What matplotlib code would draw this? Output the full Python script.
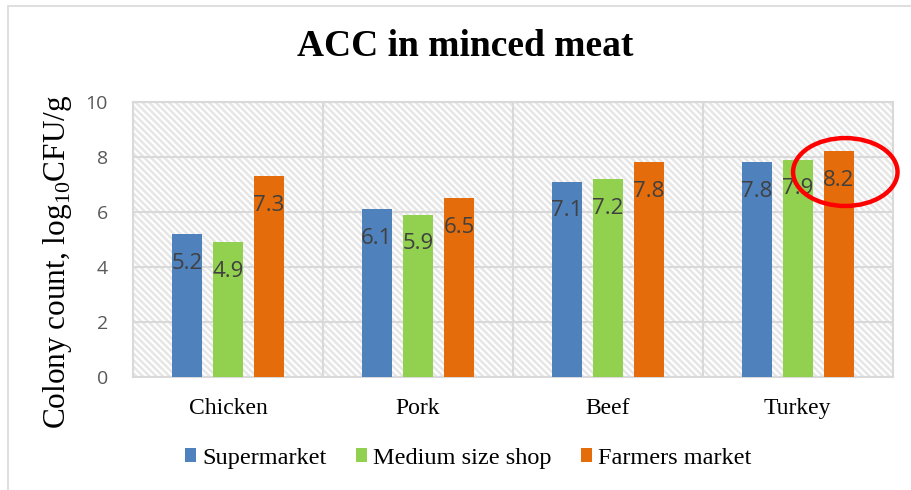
import numpy as np
from matplotlib import pyplot as plt
from matplotlib.patches import Ellipse, Rectangle

categories = ['Chicken', 'Pork', 'Beef', 'Turkey']
supermarket = [5.2, 6.1, 7.1, 7.8]
medium_shop = [4.9, 5.9, 7.2, 7.9]
farmers = [7.3, 6.5, 7.8, 8.2]
series_names = ['Supermarket', 'Medium size shop', 'Farmers market']
colors = ['#4F81BD', '#92D050', '#E46C0A']

plt.rcParams['hatch.linewidth'] = 1.8
plt.rcParams['mathtext.fontset'] = 'custom'
plt.rcParams['mathtext.rm'] = 'Liberation Serif'

fig = plt.figure(figsize=(9.11, 4.9), dpi=100)
ax = fig.add_axes([0.146, 0.231, 0.834, 0.561])

# figure frame (left/top only visible)
fig.patches.append(Rectangle((8/911, -0.1), 1.2, 1 - 6/490 + 0.1, transform=fig.transFigure,
                             fill=False, edgecolor='#d9d9d9', lw=1.2))

x = np.arange(len(categories))
w = 0.16
step = 0.216
ax.set_xlim(-0.5, 3.5)
ax.set_ylim(0, 10)

# hatched background
ax.add_patch(Rectangle((0, 0), 1, 1, transform=ax.transAxes, facecolor='white',
                       edgecolor='#e6e6e6', hatch='\\\\\\\\\\', lw=0, zorder=0))

for i, (vals, c, name) in enumerate(zip([supermarket, medium_shop, farmers], colors, series_names)):
    xs = x + (i - 1) * step
    bars = ax.bar(xs, vals, w, color=c, label=name, zorder=3)
    for b, v in zip(bars, vals):
        ax.annotate(f'{v}', (b.get_x() + b.get_width() / 2, v), xytext=(0, -21),
                    textcoords='offset points', ha='center', va='center',
                    fontsize=16, color='#404040', family='Open Sans', zorder=5)

ax.set_yticks(np.arange(0, 11, 2))
ax.grid(axis='y', color='#d9d9d9', lw=1.5, zorder=1)
for b in [0.5, 1.5, 2.5]:
    ax.axvline(b, color='#d9d9d9', lw=1.5, zorder=1)
for s in ax.spines.values():
    s.set_color('#d9d9d9')
    s.set_linewidth(1.5)
ax.tick_params(length=0)
ax.set_xticks(x)
ax.set_xticklabels(categories, family='Liberation Serif', fontsize=17)
ax.tick_params(axis='x', pad=15)
ax.tick_params(axis='y', labelsize=14, labelcolor='#595959', pad=18)
for t in ax.get_yticklabels():
    t.set_family('Open Sans')

ax.set_ylabel('Colony count, log$_{10}$CFU/g', family='Liberation Serif', fontsize=22.5)
ax.yaxis.set_label_coords(-0.078, 0.418)
fig.text(0.511, 0.905, 'ACC in minced meat', ha='center', va='center',
         family='Liberation Serif', fontsize=27, fontweight='bold')

ax.add_patch(Ellipse((3.25, 7.45), 0.55, 2.47, fill=False, edgecolor='#ff0000', lw=3.2,
                     zorder=6, clip_on=False))

leg = fig.legend(loc='center', bbox_to_anchor=(0.514, 0.065), ncol=3, frameon=False,
                 prop={'family': 'Liberation Serif', 'size': 17.5}, handlelength=0.45,
                 handleheight=0.45, handletextpad=0.25, columnspacing=1.2)

fig.savefig('out.png', dpi=100)
